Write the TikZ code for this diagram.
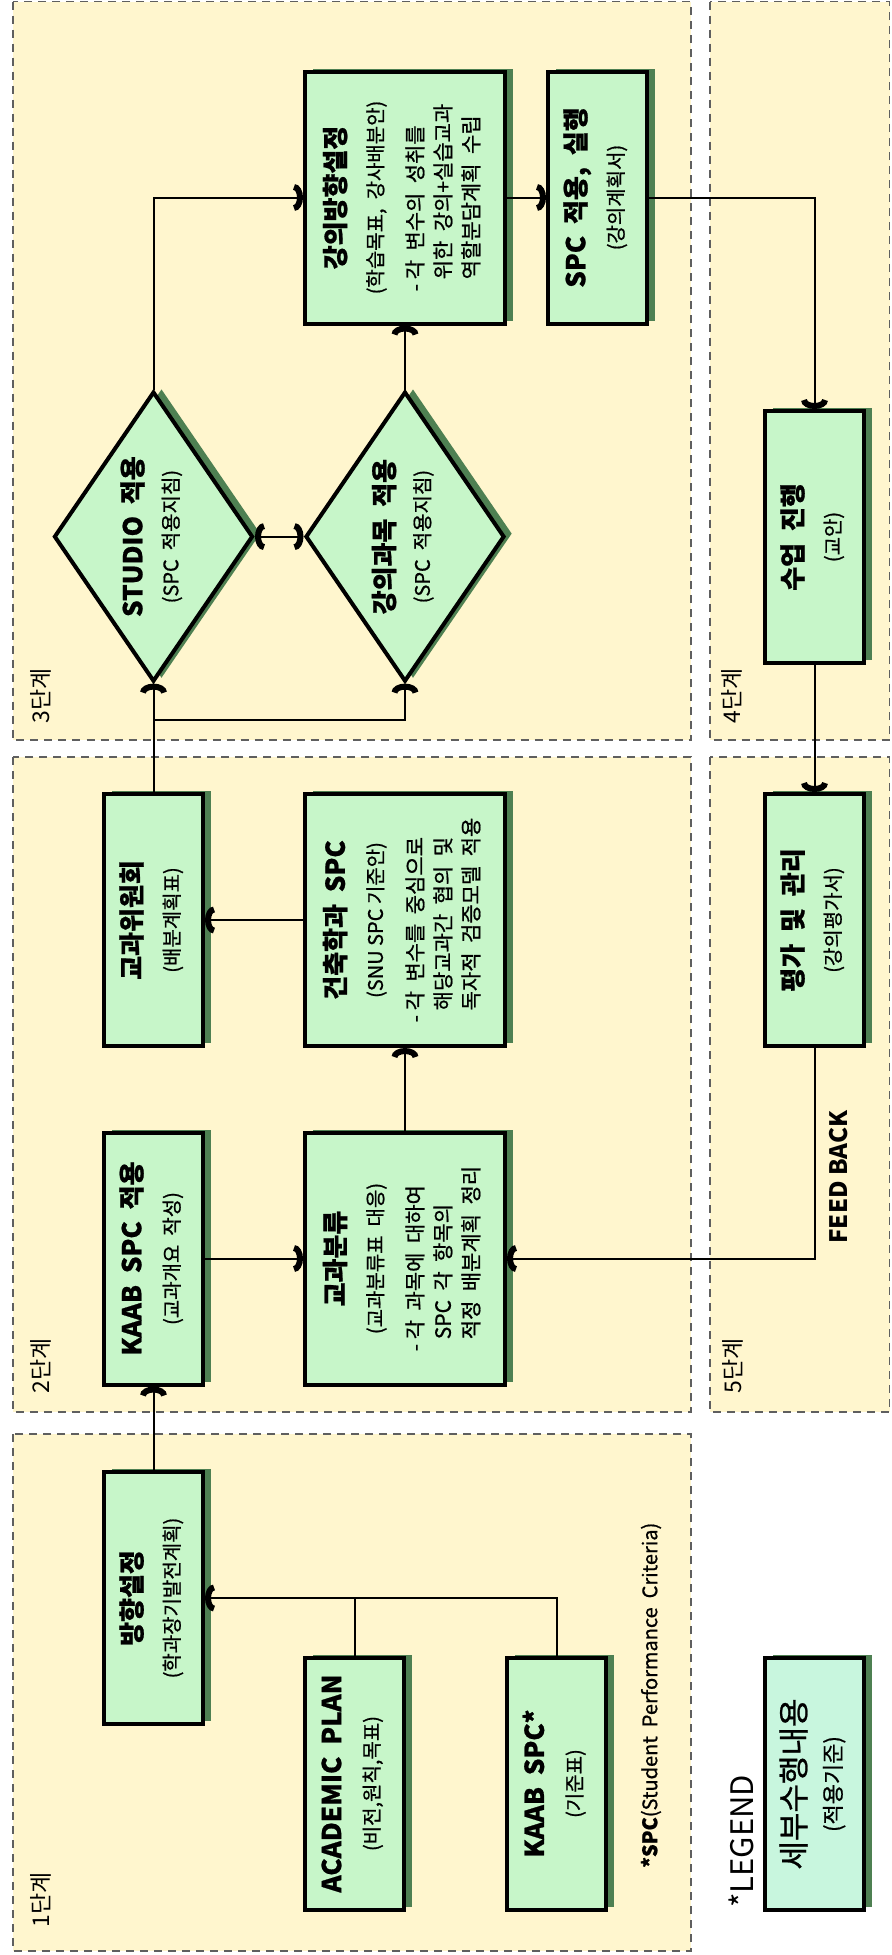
\documentclass[tikz,border=0pt]{standalone}
\usepackage{fontspec}
\setmainfont{Noto Sans CJK KR}
\newfontfamily\medfont{Noto Sans CJK KR}[FakeBold=0.8]
\usepackage{graphicx}
\usetikzlibrary{shapes.geometric,shadows,arrows.meta}
\definecolor{stagecream}{RGB}{255,246,206}
\definecolor{boxgreen}{RGB}{199,246,201}
\definecolor{legendgreen}{RGB}{200,246,222}
\definecolor{shadowgreen}{RGB}{78,128,82}
\definecolor{dashgray}{RGB}{95,95,95}
\newcommand{\boxtitle}{\fontsize{13}{16}\selectfont\bfseries}
\newcommand{\boxsub}{\fontsize{10}{14}\selectfont}
\newcommand{\rotlines}[1]{\rotatebox{90}{\medfont\fontsize{10.5}{14}\selectfont\begin{tabular}{@{}c@{}}#1\end{tabular}}}

\begin{document}
\begin{tikzpicture}[x=0.5pt, y=-0.5pt,
    stage/.style={draw=dashgray, dash pattern=on 4pt off 3pt, line width=0.7pt, fill=stagecream},
    box/.style={rectangle, draw=black, line width=2pt, fill=boxgreen, inner sep=0pt,
        minimum width=49.5pt, minimum height=126pt,
        drop shadow={shadow xshift=4pt, shadow yshift=1.5pt, fill=shadowgreen, opacity=1}},
    widebox/.style={box, minimum width=100pt},
    choice/.style={diamond, aspect=0.69, draw=black, line width=2pt, fill=boxgreen, inner sep=0pt,
        minimum width=99.5pt, minimum height=145pt,
        drop shadow={shadow xshift=4pt, shadow yshift=1.5pt, fill=shadowgreen, opacity=1}},
    barb/.tip={Arc Barb[width=13.5pt, length=4.5pt, line width=3pt]},
    arr/.style={line width=1pt, -barb},
    steplabel/.style={rotate=90, anchor=west, inner sep=0pt, font=\fontsize{11.5}{13}\selectfont}]
\useasboundingbox (0,0) rectangle (891,1955);
\fill[white] (0,0) rectangle (891,1955);

% stage areas
\draw[stage] (13,1.5) rectangle (691,740);
\draw[stage] (710,1.5) rectangle (889.5,740);
\draw[stage] (13,757) rectangle (691,1412);
\draw[stage] (710,757) rectangle (889.5,1412);
\draw[stage] (13,1434) rectangle (691,1951);

\node[steplabel] (s1) at (41,1928) {1단계};
\node[steplabel] (s2) at (41,1394) {2단계};
\node[steplabel] (s3) at (41,724) {3단계};
\node[steplabel] (s4) at (732,724) {4단계};
\node[steplabel] (s5) at (733,1394) {5단계};

% stage 1
\node[box] (hyang) at (153.5,1598) {\rotlines{{\boxtitle 방향설정}\\[5pt]{\boxsub (학과장기발전계획)}}};
\node[box] (acad) at (354.5,1783.5) {\rotlines{{\boxtitle ACADEMIC~~PLAN}\\[5pt]{\boxsub (비전,원칙,목표)}}};
\node[box] (kstar) at (556.5,1783.5) {\rotlines{{\boxtitle KAAB~~SPC*}\\[5pt]{\boxsub (기준표)}}};
\node[rotate=90, anchor=west, inner sep=0pt, font=\medfont\fontsize{10}{12}\selectfont] (spcnote) at (651,1868)
    {\textbf{*SPC}(Student~~Performance~~Criteria)};

% legend
\node[rotate=90, anchor=west, inner sep=0pt, font=\fontsize{15.5}{18}\selectfont] (legendlabel) at (741.5,1908) {*LEGEND};
\node[box, fill=legendgreen] (legend) at (814.5,1784)
    {\rotlines{{\fontsize{15.5}{18}\selectfont 세부수행내용}\\[4pt]{\fontsize{11}{14}\selectfont (적용기준)}}};

% stage 2
\node[box] (kaab) at (153.5,1258.5) {\rotlines{{\boxtitle KAAB~~SPC~~적용}\\[5pt]{\boxsub (교과개요~~작성)}}};
\node[widebox] (cls) at (405,1258.5) {\rotlines{{\boxtitle 교과분류}\\[5pt]{\boxsub (교과분류표~~대응)}\\[6pt]
    \begin{tabular}[t]{@{}r@{~}l@{}}-&각~~과목에~~대하여\\&SPC~~각~~항목의\\&적정~~배분계획~~정리\end{tabular}}};
\node[box] (comm) at (153.5,920) {\rotlines{{\boxtitle 교과위원회}\\[5pt]{\boxsub (배분계획표)}}};
\node[widebox] (arch) at (405,920) {\rotlines{{\boxtitle 건축학과~~SPC}\\[5pt]{\boxsub (SNU SPC 기준안)}\\[6pt]
    \begin{tabular}[t]{@{}r@{~}l@{}}-&각~~변수를~~중심으로\\&해당교과간~~협의~~및\\&독자적~~검증모델~~적용\end{tabular}}};

% stage 3
\node[choice] (studio) at (153.5,536.6) {\rotlines{{\boxtitle STUDIO~~적용}\\[4pt]{\boxsub (SPC~~적용지침)}}};
\node[choice] (lec) at (405,536.6) {\rotlines{{\boxtitle 강의과목~~적용}\\[4pt]{\boxsub (SPC~~적용지침)}}};
\node[widebox] (dir) at (405,197.5) {\rotlines{{\boxtitle 강의방향설정}\\[5pt]{\boxsub (학습목표,~~강사배분안)}\\[6pt]
    \begin{tabular}[t]{@{}r@{~}l@{}}-&각~~변수의~~성취를\\&위한~~강의+실습교과\\&역할분담계획~~수립\end{tabular}}};
\node[box] (spc) at (597.5,197.5) {\rotlines{{\boxtitle SPC~~적용,~~실행}\\[5pt]{\boxsub (강의계획서)}}};

% stage 4, 5
\node[box] (class) at (814.5,537) {\rotlines{{\boxtitle 수업~~진행}\\[5pt]{\boxsub (교안)}}};
\node[box] (eval) at (814.5,920) {\rotlines{{\boxtitle 평가~~및~~관리}\\[5pt]{\boxsub (강의평가서)}}};
\node[rotate=90, inner sep=0pt, font=\fontsize{12}{14}\selectfont\bfseries] (fb) at (839,1177) {FEED BACK};

% connectors
\coordinate (split) at (153.5,720);
\draw[arr] (hyang) -- (kaab);
\draw[arr] (kstar) |- (hyang);
\draw[line width=1pt] (acad) -- (acad |- hyang);
\draw[arr] (kaab) -- (cls);
\draw[arr] (cls) -- (arch);
\draw[arr] (arch) -- (comm);
\draw[arr] (comm) -- (studio);
\draw[arr] (split) -| (lec);
\draw[line width=1pt, barb-barb] (studio) -- (lec);
\draw[arr] (studio) |- (dir);
\draw[arr] (lec) -- (dir);
\draw[arr] (dir) -- (spc);
\draw[arr] (spc) -| (class);
\draw[arr] (class) -- (eval);
\draw[arr] (eval) |- (cls);
\end{tikzpicture}
\end{document}
